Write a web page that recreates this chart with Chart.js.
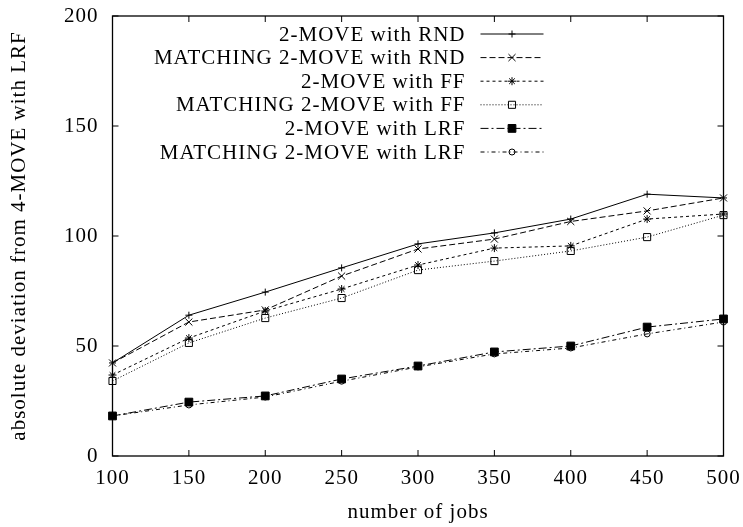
<!DOCTYPE html>
<html>
<head>
<meta charset="utf-8">
<script src="https://cdn.jsdelivr.net/npm/chart.js@4/dist/chart.umd.min.js"></script>
<style>
  html, body { margin: 0; padding: 0; background: #fff; }
  #wrap { width: 743px; height: 527px; }
</style>
</head>
<body>
<div id="wrap"><canvas id="myChart" width="743" height="527"></canvas></div>
<script>
// number of jobs on the x axis
const jobs = [100, 150, 200, 250, 300, 350, 400, 450, 500]
const yTicks = [0, 50, 100, 150, 200]

const seriesNames = [
  "2-MOVE with RND",
  "MATCHING 2-MOVE with RND",
  "2-MOVE with FF",
  "MATCHING 2-MOVE with FF",
  "2-MOVE with LRF",
  "MATCHING 2-MOVE with LRF"
]

const move2Rnd    = [42.3, 64.0, 74.5, 85.5, 96.4, 101.4, 107.7, 119.0, 117.3]
const matchingRnd = [42.3, 60.9, 66.4, 81.8, 94.1, 98.6, 106.6, 111.4, 117.3]
const move2FF     = [36.8, 53.6, 65.9, 75.9, 86.8, 94.5, 95.5, 107.7, 110.0]
const matchingFF  = [34.1, 51.4, 62.7, 71.8, 84.5, 88.6, 93.2, 99.5, 109.5]
const move2LRF    = [18.2, 24.5, 27.3, 35.0, 40.9, 47.3, 50.0, 58.6, 62.3]
const matchingLRF = [18.2, 23.2, 26.8, 34.0, 40.5, 46.4, 49.1, 55.5, 60.9]

const FONT = { family: "'Liberation Serif', 'Times New Roman', serif", size: 21 }

const toPoints = (vals) => vals.map((v, i) => ({ x: jobs[i], y: v }))

const styles = [
  { dash: [],           pointStyle: "cross",    radius: 3.5, fill: "rgba(0,0,0,0)" },
  { dash: [6, 3],       pointStyle: "crossRot", radius: 5,   fill: "rgba(0,0,0,0)" },
  { dash: [3, 3],       pointStyle: "star",     radius: 4,   fill: "rgba(0,0,0,0)" },
  { dash: [1, 2],       pointStyle: "rect",     radius: 5,   fill: "rgba(0,0,0,0)" },
  { dash: [8, 3, 2, 3], pointStyle: "rect",     radius: 5.5, fill: "#000" },
  { dash: [4, 3, 1, 3], pointStyle: "circle",   radius: 3,   fill: "rgba(0,0,0,0)" }
]

const allValues = [move2Rnd, matchingRnd, move2FF, matchingFF, move2LRF, matchingLRF]

const datasets = allValues.map((vals, i) => ({
  label: seriesNames[i],
  data: toPoints(vals),
  borderColor: "#000",
  borderWidth: 1,
  borderDash: styles[i].dash,
  pointStyle: styles[i].pointStyle,
  pointRadius: styles[i].radius,
  pointBorderWidth: 1,
  pointBorderColor: "#000",
  pointBackgroundColor: styles[i].fill,
  backgroundColor: styles[i].fill,
  tension: 0,
  fill: false,
  clip: false
}))

// gnuplot-like frame with inward ticks on every side
const framePlugin = {
  id: "frame",
  beforeDraw(chart) {
    chart.ctx.letterSpacing = "1px"
  },
  beforeDatasetsDraw(chart) {
    const { ctx, chartArea: a, scales } = chart
    ctx.save()
    ctx.strokeStyle = "#000"
    ctx.lineWidth = 1.3
    ctx.strokeRect(a.left, a.top, a.right - a.left, a.bottom - a.top)
    ctx.lineWidth = 1
    ctx.beginPath()
    const len = 6
    jobs.forEach(v => {
      const x = scales.x.getPixelForValue(v)
      ctx.moveTo(x, a.bottom); ctx.lineTo(x, a.bottom - len)
      ctx.moveTo(x, a.top); ctx.lineTo(x, a.top + len)
    })
    yTicks.forEach(v => {
      const y = scales.y.getPixelForValue(v)
      ctx.moveTo(a.left, y); ctx.lineTo(a.left + len, y)
      ctx.moveTo(a.right, y); ctx.lineTo(a.right - len, y)
    })
    ctx.stroke()
    ctx.restore()
  },
  afterDraw(chart) {
    // legend inside the plot, text right aligned, sample on the right
    const { ctx, chartArea: a } = chart
    ctx.save()
    ctx.font = FONT.size + "px " + FONT.family
    ctx.fillStyle = "#000"
    ctx.textAlign = "right"
    ctx.textBaseline = "middle"
    chart.data.datasets.forEach((ds, i) => {
      const y = a.top + 18 + i * 23.6
      const textRight = a.right - 258
      const x1 = a.right - 243, x2 = a.right - 180
      ctx.fillText(ds.label, textRight, y + 1)
      ctx.save()
      ctx.strokeStyle = "#000"
      ctx.lineWidth = 1
      ctx.setLineDash(ds.borderDash)
      ctx.beginPath()
      ctx.moveTo(x1, y); ctx.lineTo(x2, y)
      ctx.stroke()
      ctx.setLineDash([])
      ctx.fillStyle = ds.pointBackgroundColor
      Chart.helpers.drawPoint(ctx, { pointStyle: ds.pointStyle, radius: ds.pointRadius, borderWidth: 1, rotation: 0 }, (x1 + x2) / 2, y)
      ctx.restore()
    })
    ctx.restore()
  }
}

const ctx = document.getElementById("myChart")

new Chart(ctx, {
  type: "line",
  data: { datasets: datasets },
  options: {
    responsive: false,
    animation: false,
    devicePixelRatio: 1,
    layout: { padding: { top: 16, right: 19.5, left: 0, bottom: 0 } },
    plugins: { legend: { display: false }, tooltip: { enabled: false } },
    scales: {
      x: {
        type: "linear",
        min: 100,
        max: 500,
        grid: { display: false, drawTicks: false },
        border: { display: false },
        afterBuildTicks: (scale) => { scale.ticks = jobs.map(v => ({ value: v })) },
        afterFit: (scale) => {
          scale.height = 71
          scale.paddingLeft = 0
          scale.paddingRight = 0
        },
        ticks: { color: "#000", font: FONT, padding: 10, maxRotation: 0, autoSkip: false },
        title: { display: true, text: "number of jobs", color: "#000", font: FONT, padding: { top: 0, bottom: 2 } }
      },
      y: {
        min: 0,
        max: 200,
        grid: { display: false, drawTicks: false },
        border: { display: false },
        afterBuildTicks: (scale) => { scale.ticks = yTicks.map(v => ({ value: v })) },
        afterFit: (scale) => {
          scale.width = 112.5
          scale.paddingTop = 0
          scale.paddingBottom = 0
        },
        ticks: { color: "#000", font: FONT, padding: 14 },
        title: { display: true, text: "absolute deviation from 4-MOVE with LRF", color: "#000", font: FONT, padding: { top: 7, bottom: 0 } }
      }
    }
  },
  plugins: [framePlugin]
})
</script>
</body>
</html>
